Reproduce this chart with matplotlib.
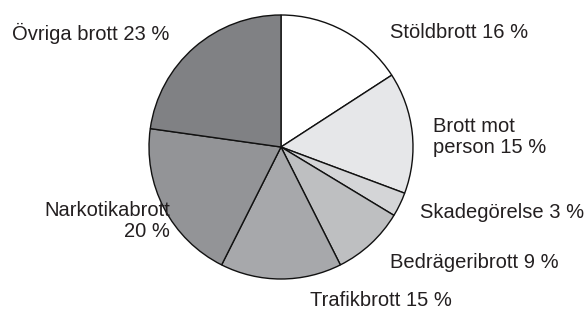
import matplotlib.pyplot as plt

# data
labels = ["Stöldbrott 16 %", "Brott mot\nperson 15 %", "Skadegörelse 3 %",
          "Bedrägeribrott 9 %", "Trafikbrott 15 %", "Narkotikabrott\n20 %",
          "Övriga brott 23 %"]
shares = [16, 15, 3, 9, 15, 20, 23]
colors = ["#ffffff", "#e6e7e9", "#d4d5d7", "#bebfc1", "#a7a8ab", "#939497", "#808184"]

plt.rcParams['font.family'] = ['Liberation Sans', 'DejaVu Sans']

fig = plt.figure(figsize=(5.87, 3.15), dpi=100)
ax = fig.add_axes([0, 0, 1, 1])

ax.pie(shares, colors=colors, startangle=90, counterclock=False,
       center=(281, 168), radius=132,
       wedgeprops=dict(edgecolor='#111111', linewidth=1.0))
ax.set_xlim(0, 587)
ax.set_ylim(0, 315)
ax.set_aspect('equal')
ax.axis('off')

# label positions (x, y, ha) in pixels
pos = [(390, 282, 'left'), (433, 178, 'left'), (420, 103, 'left'),
       (390, 52, 'left'), (310, 15, 'left'), (170, 94, 'right'),
       (12, 282, 'left')]
for lab, (x, y, ha) in zip(labels, pos):
    ax.text(x, y, lab, ha=ha, va='center', fontsize=14.5, color='#231f20',
            linespacing=1.15, multialignment=ha)

fig.savefig("out.png", dpi=100)
